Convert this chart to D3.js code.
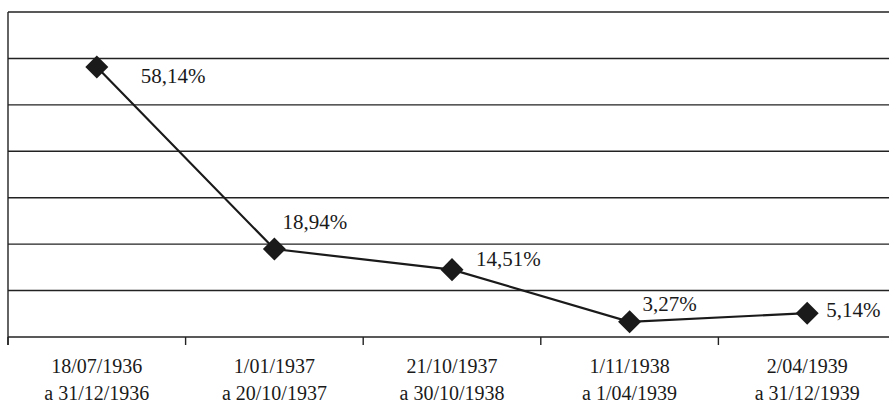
<!DOCTYPE html>
<html>
<head>
<meta charset="utf-8">
<script src="https://cdn.jsdelivr.net/npm/d3@7"></script>
<style>
  html, body { margin: 0; padding: 0; background: #fff; }
  svg { display: block; }
  svg text { font-family: "Liberation Serif", "Times New Roman", Times, "DejaVu Serif", "Noto Serif", serif; }
</style>
</head>
<body>
<div id="chart"></div>
<script>
// periods (two-line labels) and share of the total, in %
const periodStart = ["18/07/1936", "1/01/1937", "21/10/1937", "1/11/1938", "2/04/1939"];
const periodEnd = ["a 31/12/1936", "a 20/10/1937", "a 30/10/1938", "a 1/04/1939", "a 31/12/1939"];
const shares = [58.14, 18.94, 14.51, 3.27, 5.14];
const valueLabels = ["58,14%", "18,94%", "14,51%", "3,27%", "5,14%"];
const yTicks = [0, 10, 20, 30, 40, 50, 60, 70];

const width = 889;
const height = 405;
const marginTop = 12;
const marginLeft = 8;
const plotBottom = 337;
const plotRight = 896; // the frame runs past the right edge of the picture

// label offsets from each marker (as placed in the original)
const labelDx = [44, 8, 24, 13, 19];
const labelDy = [16, -20, -4, -11, 4];

const x = d3.scaleBand(d3.range(shares.length), [marginLeft, plotRight]);
const y = d3.scaleLinear([0, 70], [plotBottom, marginTop]);

const svg = d3.create("svg")
    .attr("width", width)
    .attr("height", height)
    .attr("viewBox", [0, 0, width, height]);

// horizontal gridlines
svg.append("g")
    .selectAll("line")
    .data(yTicks.filter(d => d > 0))
    .join("line")
    .attr("x1", marginLeft)
    .attr("x2", plotRight)
    .attr("y1", d => y(d))
    .attr("y2", d => y(d))
    .attr("stroke", "#222")
    .attr("stroke-width", 1.4);

// left axis line
svg.append("line")
    .attr("x1", marginLeft)
    .attr("x2", marginLeft)
    .attr("y1", y(70))
    .attr("y2", plotBottom + 8)
    .attr("stroke", "#222")
    .attr("stroke-width", 1.4);

// bottom axis with ticks on the band boundaries
const boundaries = d3.range(shares.length + 1).map(i => marginLeft + i * x.step());
svg.append("line")
    .attr("x1", marginLeft)
    .attr("x2", plotRight)
    .attr("y1", y(0))
    .attr("y2", y(0))
    .attr("stroke", "#222")
    .attr("stroke-width", 1.4);

svg.append("g")
    .selectAll("line")
    .data(boundaries)
    .join("line")
    .attr("x1", d => d)
    .attr("x2", d => d)
    .attr("y1", y(0))
    .attr("y2", y(0) + 8)
    .attr("stroke", "#222")
    .attr("stroke-width", 1.4);

// category labels
const cat = svg.append("g")
    .attr("font-size", 20)
    .attr("fill", "#1a1a1a")
    .attr("text-anchor", "middle")
    .selectAll("text")
    .data(periodStart)
    .join("text")
    .attr("x", (d, i) => x(i) + x.bandwidth() / 2)
    .attr("y", 373);

cat.append("tspan").text(d => d);
cat.append("tspan")
    .attr("x", (d, i) => x(i) + x.bandwidth() / 2)
    .attr("dy", 27)
    .text((d, i) => periodEnd[i]);

// series line
const line = d3.line()
    .x((d, i) => x(i) + x.bandwidth() / 2)
    .y(d => y(d));

svg.append("path")
    .attr("d", line(shares))
    .attr("fill", "none")
    .attr("stroke", "#1a1a1a")
    .attr("stroke-width", 2.2);

// diamond markers
const diamond = d3.symbol(d3.symbolSquare, 265);
svg.append("g")
    .selectAll("path")
    .data(shares)
    .join("path")
    .attr("d", diamond)
    .attr("transform", (d, i) => `translate(${x(i) + x.bandwidth() / 2},${y(d)}) rotate(45)`)
    .attr("fill", "#1a1a1a");

// value labels
svg.append("g")
    .attr("font-size", 21)
    .attr("fill", "#1a1a1a")
    .selectAll("text")
    .data(shares)
    .join("text")
    .attr("x", (d, i) => x(i) + x.bandwidth() / 2 + labelDx[i])
    .attr("y", (d, i) => y(d) + labelDy[i])
    .text((d, i) => valueLabels[i]);

document.getElementById("chart").appendChild(svg.node());
</script>
</body>
</html>
